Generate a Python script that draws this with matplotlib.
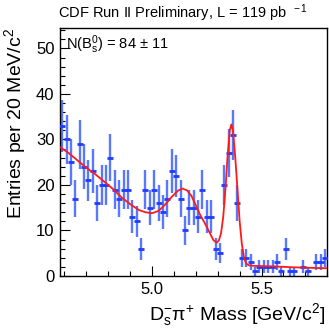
import numpy as np
import matplotlib
matplotlib.use('Agg')
import matplotlib.pyplot as plt
from matplotlib.ticker import MultipleLocator, FormatStrFormatter

plt.rcParams['font.family'] = ['Liberation Sans', 'DejaVu Sans']
plt.rcParams['mathtext.fontset'] = 'custom'
plt.rcParams['mathtext.rm'] = 'Liberation Sans'
plt.rcParams['mathtext.it'] = 'Liberation Sans:italic'

# histogram: 20 MeV bins from 4.58 to 5.80 GeV
mass_lo = 4.58
bin_width = 0.02
counts = [33, 30, 25, 17, 29, 24, 21, 23, 16, 20, 20, 26, 19, 17, 19,
          19, 13, 12, 6, 19, 15, 19, 16, 14, 17, 23, 22, 17, 10, 15,
          15, 13, 19, 13, 13, 6, 5, 20, 27, 31, 16, 4, 4, 3,
          1, 2, 2, 2, 2, 3, 1, 6, 1, 1, 0, 2, 1, 0, 3, 3, 4]

# fitted function
fit_mass = [4.58, 4.62, 4.66, 4.70, 4.74, 4.78, 4.82, 4.86, 4.90, 4.94, 4.97,
            5.00, 5.03, 5.06, 5.09, 5.12, 5.14, 5.16, 5.18, 5.20, 5.22, 5.24,
            5.26, 5.28, 5.295, 5.305, 5.315, 5.325, 5.335, 5.345, 5.355, 5.362,
            5.370, 5.380, 5.390, 5.400, 5.410, 5.420, 5.430, 5.445, 5.48, 5.56,
            5.65, 5.72, 5.80]
fit_vals = [28.3, 27.0, 25.4, 23.8, 22.4, 20.8, 19.2, 17.3, 15.8, 14.5, 14.0,
            13.8, 14.3, 15.7, 17.4, 18.8, 19.2, 18.8, 17.6, 15.5, 13.4, 11.7,
            9.8, 7.9, 7.3, 7.8, 9.4, 13.0, 19.0, 26.5, 32.0, 33.3,
            31.8, 26.0, 19.0, 12.0, 7.0, 4.0, 2.7, 2.3, 2.2, 2.1,
            1.9, 1.8, 1.7]

counts = np.array(counts, dtype=float)
centers = mass_lo + bin_width * (np.arange(len(counts)) + 0.5)
errors = np.sqrt(counts)
mask = counts > 0

fig = plt.figure(figsize=(3.29, 3.32), dpi=100)
ax = fig.add_axes([60 / 329, 56 / 332, 267.3 / 329, 248.5 / 332])

ax.errorbar(centers[mask], counts[mask], yerr=errors[mask], fmt='none',
            ecolor='#5a78ff', elinewidth=1.7, capsize=0, zorder=2)
ax.plot(centers[mask], counts[mask], linestyle='none', marker='_',
        markersize=4.5, markeredgewidth=2, color='#1f3cff', zorder=3)
ax.plot(fit_mass, fit_vals, color='#ff1a1a', linewidth=1.3, zorder=4)

ax.set_xlim(4.58, 5.80)
ax.set_ylim(0, 54.6)

ax.xaxis.set_major_locator(MultipleLocator(0.5))
ax.xaxis.set_minor_locator(MultipleLocator(0.1))
ax.xaxis.set_major_formatter(FormatStrFormatter('%.1f'))
ax.yaxis.set_major_locator(MultipleLocator(10))
ax.yaxis.set_minor_locator(MultipleLocator(2))
ax.tick_params(which='both', direction='in', top=False, right=False,
               labelsize=12, width=0.8)
ax.tick_params(axis='y', which='major', length=7, pad=4)
ax.tick_params(axis='x', which='major', length=7, pad=4)
ax.tick_params(which='minor', length=3.5)
for s in ax.spines.values():
    s.set_linewidth(1.0)

ax.set_ylabel(r'Entries per 20 MeV/c$^{2}$', fontsize=14, loc='top')
ax.yaxis.set_label_coords(-0.12, 1.0)
ax.set_xlabel(r'D$_{\rm s}^{-}$π$^{+}$ Mass [GeV/c$^{2}$]', fontsize=14, loc='right')
ax.xaxis.set_label_coords(0.991, -0.1)

fig.text(58 / 329, 1 - 13 / 332, r'CDF Run II Preliminary, L = 119 pb$^{\ \ -1}$',
         fontsize=10.5, ha='left', va='center')
ax.text(0.022, 0.93, r'N(B$_{\rm s}^{0}$) = 84 $\pm$ 11', transform=ax.transAxes,
        fontsize=10.5, ha='left', va='center')

fig.savefig('out.png', dpi=100)
plt.close(fig)
